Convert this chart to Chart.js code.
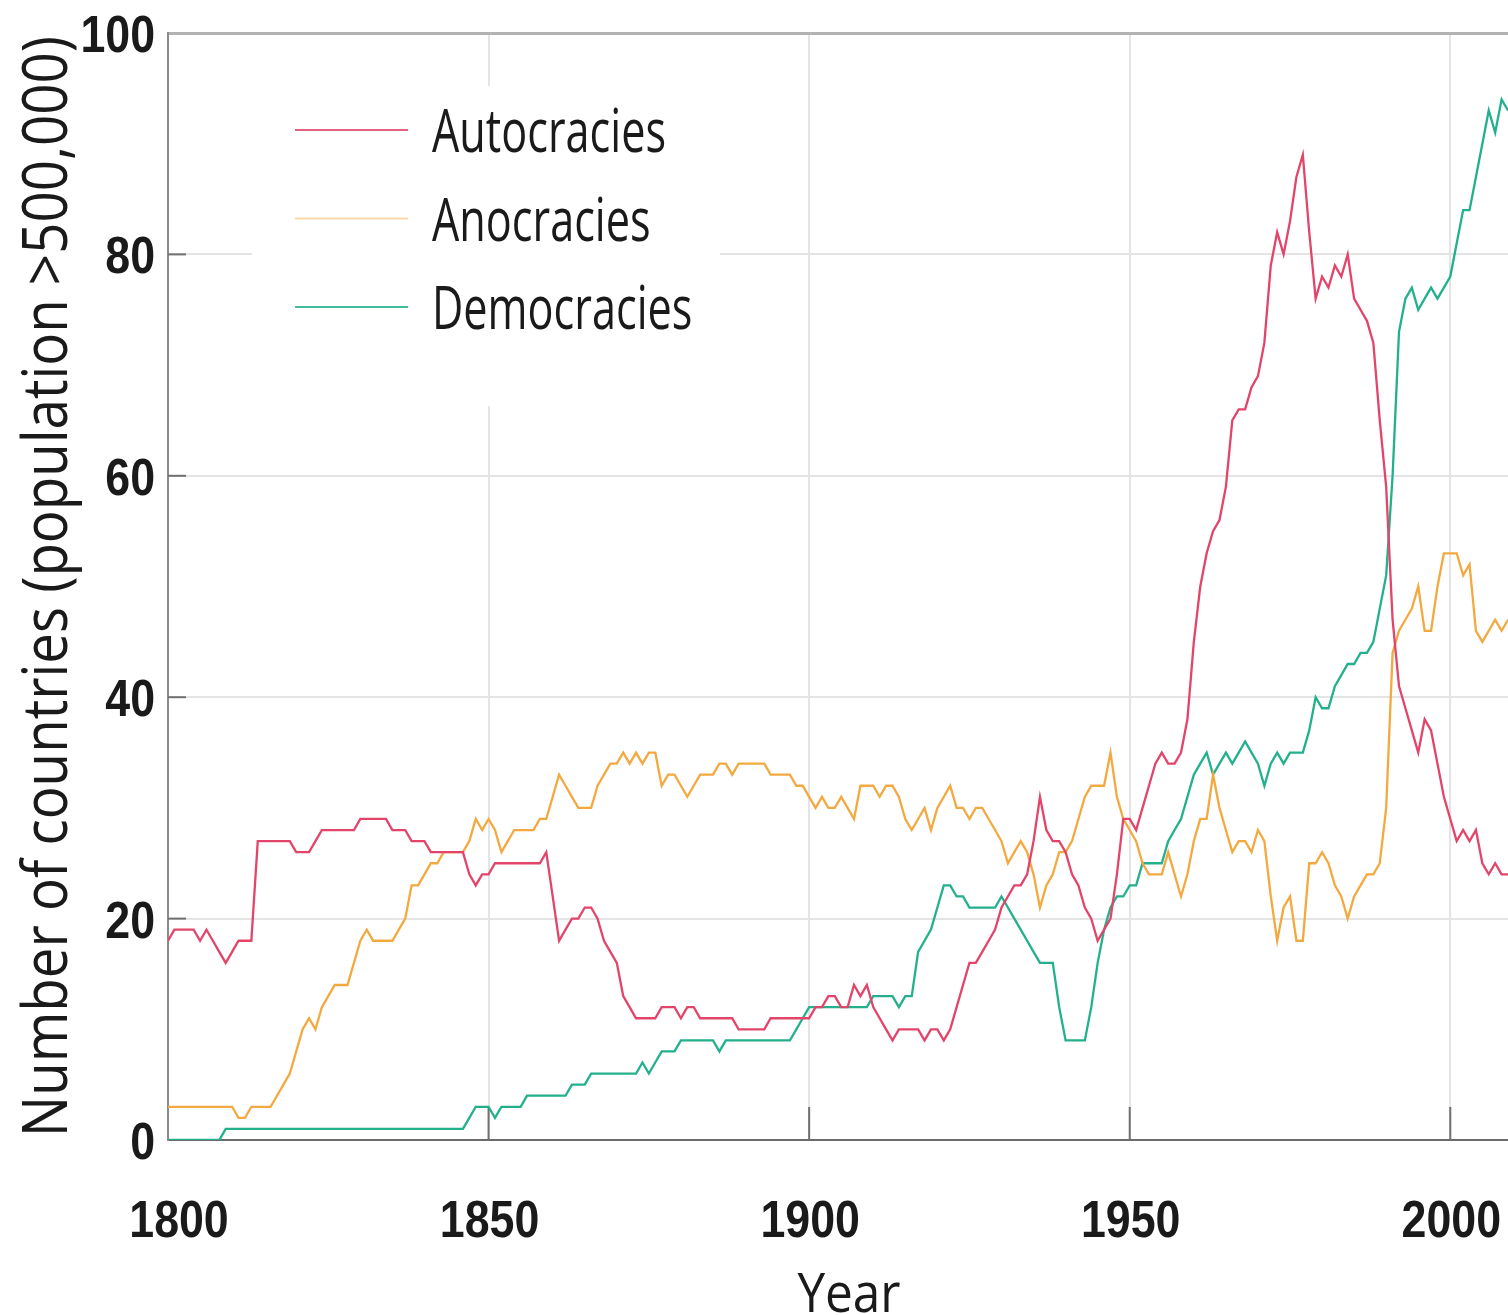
<!DOCTYPE html>
<html>
<head>
<meta charset="utf-8">
<title>Regime types 1800-2009</title>
<script src="https://cdn.jsdelivr.net/npm/chart.js@4.4.1/dist/chart.umd.min.js"></script>
<style>
  html, body { margin: 0; padding: 0; background: #fff; }
  #wrap { position: relative; width: 1508px; height: 1315px; }
</style>
</head>
<body>
<div id="wrap"><canvas id="regimeChart"></canvas></div>
<script>
// Yearly counts, 1800 to 2009 (ten values per row = one decade)
const firstYear = 1800;

const autocracies = [
  18, 19, 19, 19, 19, 18, 19, 18, 17, 16,
  17, 18, 18, 18, 27, 27, 27, 27, 27, 27,
  26, 26, 26, 27, 28, 28, 28, 28, 28, 28,
  29, 29, 29, 29, 29, 28, 28, 28, 27, 27,
  27, 26, 26, 26, 26, 26, 26, 24, 23, 24,
  24, 25, 25, 25, 25, 25, 25, 25, 25, 26,
  22, 18, 19, 20, 20, 21, 21, 20, 18, 17,
  16, 13, 12, 11, 11, 11, 11, 12, 12, 12,
  11, 12, 12, 11, 11, 11, 11, 11, 11, 10,
  10, 10, 10, 10, 11, 11, 11, 11, 11, 11,
  11, 12, 12, 13, 13, 12, 12, 14, 13, 14,
  12, 11, 10, 9, 10, 10, 10, 10, 9, 10,
  10, 9, 10, 12, 14, 16, 16, 17, 18, 19,
  21, 22, 23, 23, 24, 27, 31, 28, 27, 27,
  26, 24, 23, 21, 20, 18, 19, 20, 24, 29,
  29, 28, 30, 32, 34, 35, 34, 34, 35, 38,
  45, 50, 53, 55, 56, 59, 65, 66, 66, 68,
  69, 72, 79, 82, 80, 83, 87, 89, 82, 76,
  78, 77, 79, 78, 80, 76, 75, 74, 72, 65,
  59, 47, 41, 39, 37, 35, 38, 37, 34, 31,
  29, 27, 28, 27, 28, 25, 24, 25, 24, 24
];

const anocracies = [
  3, 3, 3, 3, 3, 3, 3, 3, 3, 3,
  3, 2, 2, 3, 3, 3, 3, 4, 5, 6,
  8, 10, 11, 10, 12, 13, 14, 14, 14, 16,
  18, 19, 18, 18, 18, 18, 19, 20, 23, 23,
  24, 25, 25, 26, 26, 26, 26, 27, 29, 28,
  29, 28, 26, 27, 28, 28, 28, 28, 29, 29,
  31, 33, 32, 31, 30, 30, 30, 32, 33, 34,
  34, 35, 34, 35, 34, 35, 35, 32, 33, 33,
  32, 31, 32, 33, 33, 33, 34, 34, 33, 34,
  34, 34, 34, 34, 33, 33, 33, 33, 32, 32,
  31, 30, 31, 30, 30, 31, 30, 29, 32, 32,
  32, 31, 32, 32, 31, 29, 28, 29, 30, 28,
  30, 31, 32, 30, 30, 29, 30, 30, 29, 28,
  27, 25, 26, 27, 26, 24, 21, 23, 24, 26,
  26, 27, 29, 31, 32, 32, 32, 35, 31, 29,
  28, 27, 25, 24, 24, 24, 26, 24, 22, 24,
  27, 29, 29, 33, 30, 28, 26, 27, 27, 26,
  28, 27, 22, 18, 21, 22, 18, 18, 25, 25,
  26, 25, 23, 22, 20, 22, 23, 24, 24, 25,
  30, 44, 46, 47, 48, 50, 46, 46, 50, 53,
  53, 53, 51, 52, 46, 45, 46, 47, 46, 47
];

const democracies = [
  0, 0, 0, 0, 0, 0, 0, 0, 0, 1,
  1, 1, 1, 1, 1, 1, 1, 1, 1, 1,
  1, 1, 1, 1, 1, 1, 1, 1, 1, 1,
  1, 1, 1, 1, 1, 1, 1, 1, 1, 1,
  1, 1, 1, 1, 1, 1, 1, 2, 3, 3,
  3, 2, 3, 3, 3, 3, 4, 4, 4, 4,
  4, 4, 4, 5, 5, 5, 6, 6, 6, 6,
  6, 6, 6, 6, 7, 6, 7, 8, 8, 8,
  9, 9, 9, 9, 9, 9, 8, 9, 9, 9,
  9, 9, 9, 9, 9, 9, 9, 9, 10, 11,
  12, 12, 12, 12, 12, 12, 12, 12, 12, 12,
  13, 13, 13, 13, 12, 13, 13, 17, 18, 19,
  21, 23, 23, 22, 22, 21, 21, 21, 21, 21,
  22, 21, 20, 19, 18, 17, 16, 16, 16, 12,
  9, 9, 9, 9, 12, 16, 19, 21, 22, 22,
  23, 23, 25, 25, 25, 25, 27, 28, 29, 31,
  33, 34, 35, 33, 34, 35, 34, 35, 36, 35,
  34, 32, 34, 35, 34, 35, 35, 35, 37, 40,
  39, 39, 41, 42, 43, 43, 44, 44, 45, 48,
  51, 60, 73, 76, 77, 75, 76, 77, 76, 77,
  78, 81, 84, 84, 87, 90, 93, 91, 94, 93
];

const seriesNames = ['Autocracies', 'Anocracies', 'Democracies'];
const seriesColors = ['#e2446a', '#f3a940', '#22b08d'];
const xTickValues = [1800, 1850, 1900, 1950, 2000];
const yTickValues = [0, 20, 40, 60, 80, 100];

const years = autocracies.map((_, i) => firstYear + i);

const tickFont = "bold 52px 'Liberation Sans', 'Noto Sans', sans-serif";
const textFont = "'Open Sans', 'Noto Sans', sans-serif";

// draw text squeezed horizontally (the original uses a condensed face)
function drawSqueezed(ctx, text, x, y, font, squeeze, align) {
    ctx.save();
    ctx.font = font;
    ctx.textBaseline = 'alphabetic';
    ctx.textAlign = align || 'left';
    ctx.translate(x, y);
    ctx.scale(squeeze, 1);
    ctx.fillText(text, 0, 0);
    ctx.restore();
}

// Inner tick marks, legend box and legend entries, drawn under the lines
const decorPlugin = {
    id: 'decor',
    beforeDatasetsDraw(chart) {
        const ctx = chart.ctx;
        const area = chart.chartArea;
        const xs = chart.scales.x;
        const ys = chart.scales.y;

        ctx.save();
        ctx.strokeStyle = '#707070';
        ctx.lineWidth = 2;
        xTickValues.slice(1).forEach(v => {
            const px = xs.getPixelForValue(v);
            ctx.beginPath();
            ctx.moveTo(px, area.bottom);
            ctx.lineTo(px, area.bottom - 33);
            ctx.stroke();
        });
        yTickValues.slice(1, -1).forEach(v => {
            const py = ys.getPixelForValue(v);
            ctx.beginPath();
            ctx.moveTo(area.left, py);
            ctx.lineTo(area.left + 18, py);
            ctx.stroke();
        });

        // legend box covers the grid
        ctx.fillStyle = '#ffffff';
        ctx.fillRect(252, 86, 468, 320);

        seriesNames.forEach((name, i) => {
            const rowY = 130 + i * 88.5;
            ctx.strokeStyle = seriesColors[i];
            ctx.globalAlpha = i === 1 ? 0.45 : 0.85;
            ctx.lineWidth = 2;
            ctx.beginPath();
            ctx.moveTo(295, rowY);
            ctx.lineTo(408, rowY);
            ctx.stroke();
            ctx.globalAlpha = 1;
            ctx.fillStyle = '#1a1a1a';
            drawSqueezed(ctx, name, 432, rowY + 22, '60px ' + textFont, 0.72, 'left');
        });
        ctx.restore();
    },
    afterDraw(chart) {
        const ctx = chart.ctx;
        const area = chart.chartArea;
        const xs = chart.scales.x;
        const ys = chart.scales.y;

        // tick labels in a condensed bold face
        ctx.save();
        ctx.fillStyle = '#1a1a1a';
        xs.ticks.forEach((t, i) => {
            // the first year label sits a little inside the axis start
            const shift = i === 0 ? 11 : 1;
            drawSqueezed(ctx, String(t.value), xs.getPixelForValue(t.value) + shift, area.bottom + 97,
                tickFont, 0.86, 'center');
        });
        ys.ticks.forEach(t => {
            drawSqueezed(ctx, String(t.value), area.left - 13, ys.getPixelForValue(t.value) + 19,
                tickFont, 0.86, 'right');
        });
        ctx.restore();

        // y axis title, rotated, fitted to the plot height
        ctx.save();
        ctx.fillStyle = '#1a1a1a';
        const yTitle = 'Number of countries (population >500,000)';
        ctx.font = '62px ' + textFont;
        const natural = ctx.measureText(yTitle).width;
        const fit = (area.bottom - area.top - 6) / natural;
        ctx.translate(67, (area.top + area.bottom) / 2);
        ctx.rotate(-Math.PI / 2);
        ctx.scale(fit, 1);
        ctx.textAlign = 'center';
        ctx.textBaseline = 'alphabetic';
        ctx.fillText(yTitle, 0, 0);
        ctx.restore();

        ctx.save();
        ctx.fillStyle = '#1a1a1a';
        drawSqueezed(ctx, 'Year', 849, 1312, '55px ' + textFont, 0.9, 'center');
        ctx.restore();
    }
};

function createRegimeChart() {
    const ctx = document.getElementById('regimeChart').getContext('2d');
    const series = [autocracies, anocracies, democracies];

    new Chart(ctx, {
        type: 'line',
        data: {
            datasets: series.map((values, i) => ({
                label: seriesNames[i],
                data: values.map((v, j) => ({ x: years[j], y: v })),
                borderColor: seriesColors[i],
                borderWidth: 2.3,
                pointRadius: 0,
                tension: 0,
                fill: false
            }))
        },
        options: {
            responsive: true,
            maintainAspectRatio: false,
            animation: false,
            devicePixelRatio: 1,
            layout: {
                padding: { top: 33, right: 0, bottom: 0, left: 0 }
            },
            plugins: {
                legend: { display: false },
                tooltip: { enabled: false }
            },
            scales: {
                x: {
                    type: 'linear',
                    min: 1800,
                    max: 2009,
                    afterBuildTicks: scale => {
                        scale.ticks = xTickValues.map(v => ({ value: v }));
                    },
                    afterFit: scale => { scale.height = 175; },
                    ticks: { display: false },
                    grid: {
                        color: '#e4e4e4',
                        lineWidth: 2,
                        drawTicks: false
                    },
                    border: { color: '#6b6b6b', width: 2 }
                },
                y: {
                    min: 0,
                    max: 100,
                    afterBuildTicks: scale => {
                        scale.ticks = yTickValues.map(v => ({ value: v }));
                    },
                    afterFit: scale => { scale.width = 168; },
                    ticks: { display: false },
                    grid: {
                        color: c => (c.tick && c.tick.value === 100) ? '#b3b3b3' : '#e4e4e4',
                        lineWidth: c => (c.tick && c.tick.value === 100) ? 3 : 2,
                        drawTicks: false
                    },
                    border: { color: '#8c8c8c', width: 2 }
                }
            }
        },
        plugins: [decorPlugin]
    });
}

createRegimeChart();
</script>
</body>
</html>
